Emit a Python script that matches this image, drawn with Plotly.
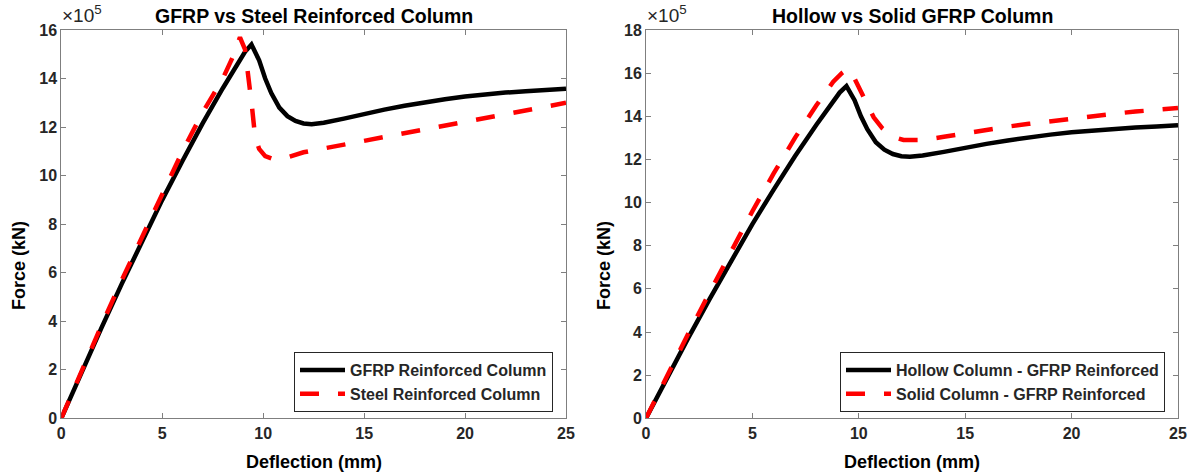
import plotly.graph_objects as go

# ---- Data (force in units of 1e5 kN, deflection in mm) ----
gfrp_defl = [0, 1, 2, 3, 4, 5, 6, 7, 8, 8.7, 9.1, 9.42, 9.6, 9.8, 10.1, 10.4, 10.8, 11.2,
             11.6, 12.0, 12.4, 13, 14, 15, 16, 17, 18, 19, 20, 21, 22, 23, 24, 25]
gfrp_force = [0, 1.9, 3.75, 5.55, 7.3, 9.0, 10.6, 12.15, 13.6, 14.55, 15.1, 15.4, 15.05, 14.75,
              14.0, 13.4, 12.8, 12.45, 12.25, 12.15, 12.12, 12.18, 12.35, 12.55, 12.72, 12.88,
              13.03, 13.15, 13.26, 13.35, 13.42, 13.48, 13.53, 13.58]

steel_defl = [0, 1, 2, 3, 4, 5, 6, 7, 8, 8.5, 8.85, 9.1, 9.3, 9.45, 9.6, 9.8, 10.1, 10.5, 10.9,
              11.5, 12, 13, 15, 17, 19, 21, 23, 25]
steel_force = [0, 1.95, 3.85, 5.7, 7.5, 9.3, 11.0, 12.6, 14.0, 14.9, 15.7, 15.2, 14.0, 12.8, 11.6,
               11.1, 10.8, 10.68, 10.68, 10.82, 10.96, 11.12, 11.43, 11.75, 12.06, 12.37, 12.69, 13.0]

solid_defl = [0, 1, 2, 3, 4, 5, 6, 7, 8, 8.8, 9.2, 9.48, 9.7, 9.9, 10.3, 10.7, 11.1, 11.6, 12.1,
              13, 14, 15, 16, 17, 18, 19, 20, 21, 22, 23, 24, 25]
solid_force = [0, 2.0, 3.95, 5.85, 7.75, 9.6, 11.35, 13.0, 14.5, 15.6, 16.0, 16.2, 15.95, 15.55,
               14.65, 13.95, 13.45, 13.05, 12.9, 12.9, 13.05, 13.22, 13.38, 13.52, 13.65, 13.78,
               13.9, 14.02, 14.12, 14.22, 14.3, 14.38]

# hollow GFRP column is the same response as the GFRP reinforced column
hollow_defl = gfrp_defl
hollow_force = gfrp_force

x_ticks = [0, 5, 10, 15, 20, 25]
y_ticks_left = [0, 2, 4, 6, 8, 10, 12, 14, 16]
y_ticks_right = [0, 2, 4, 6, 8, 10, 12, 14, 16, 18]

titles = ["GFRP vs Steel Reinforced Column", "Hollow vs Solid GFRP Column"]
x_title = "Deflection (mm)"
y_title = "Force (kN)"

FONT = "Liberation Sans, Arial, Helvetica, sans-serif"
AX = "#262626"
W, H = 1197, 475

fig = go.Figure()

dash = "19px,19px"
LW = 4.5
fig.add_trace(go.Scatter(x=gfrp_defl, y=gfrp_force, mode="lines", name="GFRP Reinforced Column",
                         line=dict(color="black", width=LW), xaxis="x", yaxis="y", legend="legend"))
fig.add_trace(go.Scatter(x=steel_defl, y=steel_force, mode="lines", name="Steel Reinforced Column",
                         line=dict(color="#ff0000", width=LW, dash=dash), xaxis="x", yaxis="y",
                         legend="legend"))
fig.add_trace(go.Scatter(x=hollow_defl, y=hollow_force, mode="lines",
                         name="Hollow Column - GFRP Reinforced",
                         line=dict(color="black", width=LW), xaxis="x2", yaxis="y2", legend="legend2"))
fig.add_trace(go.Scatter(x=solid_defl, y=solid_force, mode="lines",
                         name="Solid Column - GFRP Reinforced",
                         line=dict(color="#ff0000", width=LW, dash=dash), xaxis="x2", yaxis="y2",
                         legend="legend2"))

# plot-area pixel geometry
L1, R1 = 61.3, 566.0
L2, R2 = 646.0, 1178.0
TOP, BOT = 30.0, 418.3


def px_x(p):
    return p / W


def px_y(p):
    return 1 - p / H


axis_common = dict(showline=True, linecolor="#7f7f7f", linewidth=1, mirror="ticks",
                   ticks="inside", ticklen=5, tickcolor="#7f7f7f", showgrid=False, zeroline=False,
                   automargin=False,
                   tickfont=dict(family=FONT, size=16, color=AX, weight="bold"))

legend_common = dict(xanchor="right", yanchor="bottom", bgcolor="white", bordercolor=AX,
                     borderwidth=1, itemwidth=45, tracegroupgap=0,
                     font=dict(family=FONT, size=16, color=AX, weight="bold"))

fig.update_layout(
    width=W, height=H, margin=dict(l=0, r=0, t=0, b=0, autoexpand=False),
    paper_bgcolor="white", plot_bgcolor="white",
    xaxis=dict(domain=[px_x(L1), px_x(R1)], range=[0, 25], tickvals=x_ticks, anchor="y",
               **axis_common),
    yaxis=dict(domain=[px_y(BOT), px_y(TOP)], range=[0, 16], tickvals=y_ticks_left, anchor="x",
               **axis_common),
    xaxis2=dict(domain=[px_x(L2), px_x(R2)], range=[0, 25], tickvals=x_ticks, anchor="y2",
                **axis_common),
    yaxis2=dict(domain=[px_y(BOT), px_y(TOP)], range=[0, 18], tickvals=y_ticks_right, anchor="x2",
                **axis_common),
    legend=dict(x=px_x(553), y=px_y(412), **legend_common),
    legend2=dict(x=px_x(1165), y=px_y(412), **legend_common),
    showlegend=True,
)

ann = []
for cx, t in [((L1 + R1) / 2, titles[0]), ((L2 + R2) / 2, titles[1])]:
    ann.append(dict(text=t, x=px_x(cx), y=px_y(16), xref="paper", yref="paper",
                    xanchor="center", yanchor="middle", showarrow=False,
                    font=dict(family=FONT, size=19.5, color="black", weight="bold")))
for cx in [(L1 + R1) / 2, (L2 + R2) / 2]:
    ann.append(dict(text=x_title, x=px_x(cx), y=px_y(462), xref="paper", yref="paper",
                    xanchor="center", yanchor="middle", showarrow=False,
                    font=dict(family=FONT, size=18, color="black", weight="bold")))
for lx in [19, 604]:
    ann.append(dict(text=y_title, x=px_x(lx), y=px_y(266), xref="paper", yref="paper",
                    xanchor="center", yanchor="middle", showarrow=False, textangle=-90,
                    font=dict(family=FONT, size=18, color="black", weight="bold")))
for lx in [L1, L2]:
    ann.append(dict(text="×10<sup>5</sup>", x=px_x(lx - 1), y=px_y(28), xref="paper", yref="paper",
                    xanchor="left", yanchor="bottom", showarrow=False,
                    font=dict(family=FONT, size=19, color=AX)))
fig.update_layout(annotations=ann)

fig.write_html("out.html", config={"displayModeBar": False},
               post_script="document.body.style.margin='0';document.body.style.padding='0';")
